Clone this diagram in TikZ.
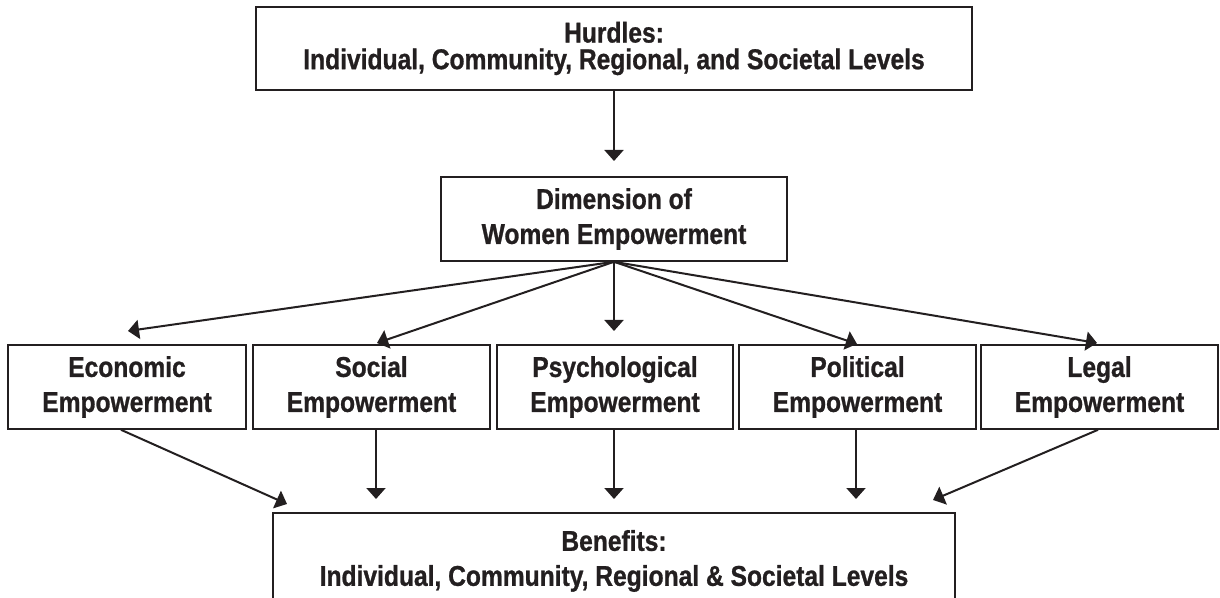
\documentclass[tikz,border=0pt]{standalone}
\usepackage{fontspec}
\setmainfont{Liberation Sans}[FakeStretch=0.86, BoldFeatures={FakeBold=0.9}]
\usetikzlibrary{arrows.meta}
\definecolor{ink}{RGB}{35,31,32}
\begin{document}
\begin{tikzpicture}[x=0.5pt,y=-0.5pt,
  box/.style={draw=ink, line width=0.8pt, fill=white, inner sep=0pt, align=center,
    font=\fontsize{14.3}{17.5}\selectfont\bfseries, text=ink, minimum height=42pt},
  tight/.style={font=\fontsize{14.3}{13.3}\selectfont\bfseries},
  link/.style={draw=ink, line width=1pt, -{Triangle[length=5.5pt,width=9.5pt]}}]
\useasboundingbox (0,0) rectangle (1220,598);
\clip (0,0) rectangle (1220,598);
\fill[white] (0,0) rectangle (1220,598);

% top level: hurdles
\node[box, tight, minimum width=358pt, minimum height=41.5pt] (hurdles) at (614,48.5)
  {Hurdles:\\Individual, Community, Regional, and Societal Levels};

% central dimension box
\node[box, minimum width=173pt] (dim) at (614,219)
  {Dimension of\\Women Empowerment};

% five dimensions
\node[box, minimum width=119pt]   (econ)      at (127,387)    {Economic\\Empowerment};
\node[box, minimum width=118.5pt] (social)    at (371.5,387)  {Social\\Empowerment};
\node[box, minimum width=118pt]   (psych)     at (615,387)    {Psychological\\Empowerment};
\node[box, minimum width=118.5pt] (political) at (857.5,387)  {Political\\Empowerment};
\node[box, minimum width=118.5pt] (legal)     at (1099.5,387) {Legal\\Empowerment};

% benefits (runs past the lower edge)
\node[box, minimum width=341pt, minimum height=48pt] (benefits) at (614,561)
  {Benefits:\\Individual, Community, Regional \& Societal Levels};

% arrow end points
\coordinate (tDim) at (614,161);
\coordinate (tEco) at (128,331);
\coordinate (tSoc) at (377,343);
\coordinate (tPsy) at (614,331);
\coordinate (tPol) at (857,344);
\coordinate (tLeg) at (1097,343);
\coordinate (bEco) at (287,504);
\coordinate (bSoc) at (376,499);
\coordinate (bPsy) at (614,499);
\coordinate (bPol) at (856,499);
\coordinate (bLeg) at (933,500);

% connectors
\draw[link] (hurdles.south) -- (tDim);
\foreach \t in {tEco,tSoc,tPsy,tPol,tLeg}
  \draw[link] (dim.south) -- (\t);
\draw[link] ([xshift=-3pt]econ.south)       -- (bEco);
\draw[link] ([xshift=2.25pt]social.south)   -- (bSoc);
\draw[link] ([xshift=-0.5pt]psych.south)    -- (bPsy);
\draw[link] ([xshift=-0.75pt]political.south) -- (bPol);
\draw[link] ([xshift=-0.75pt]legal.south)   -- (bLeg);
\end{tikzpicture}
\end{document}
